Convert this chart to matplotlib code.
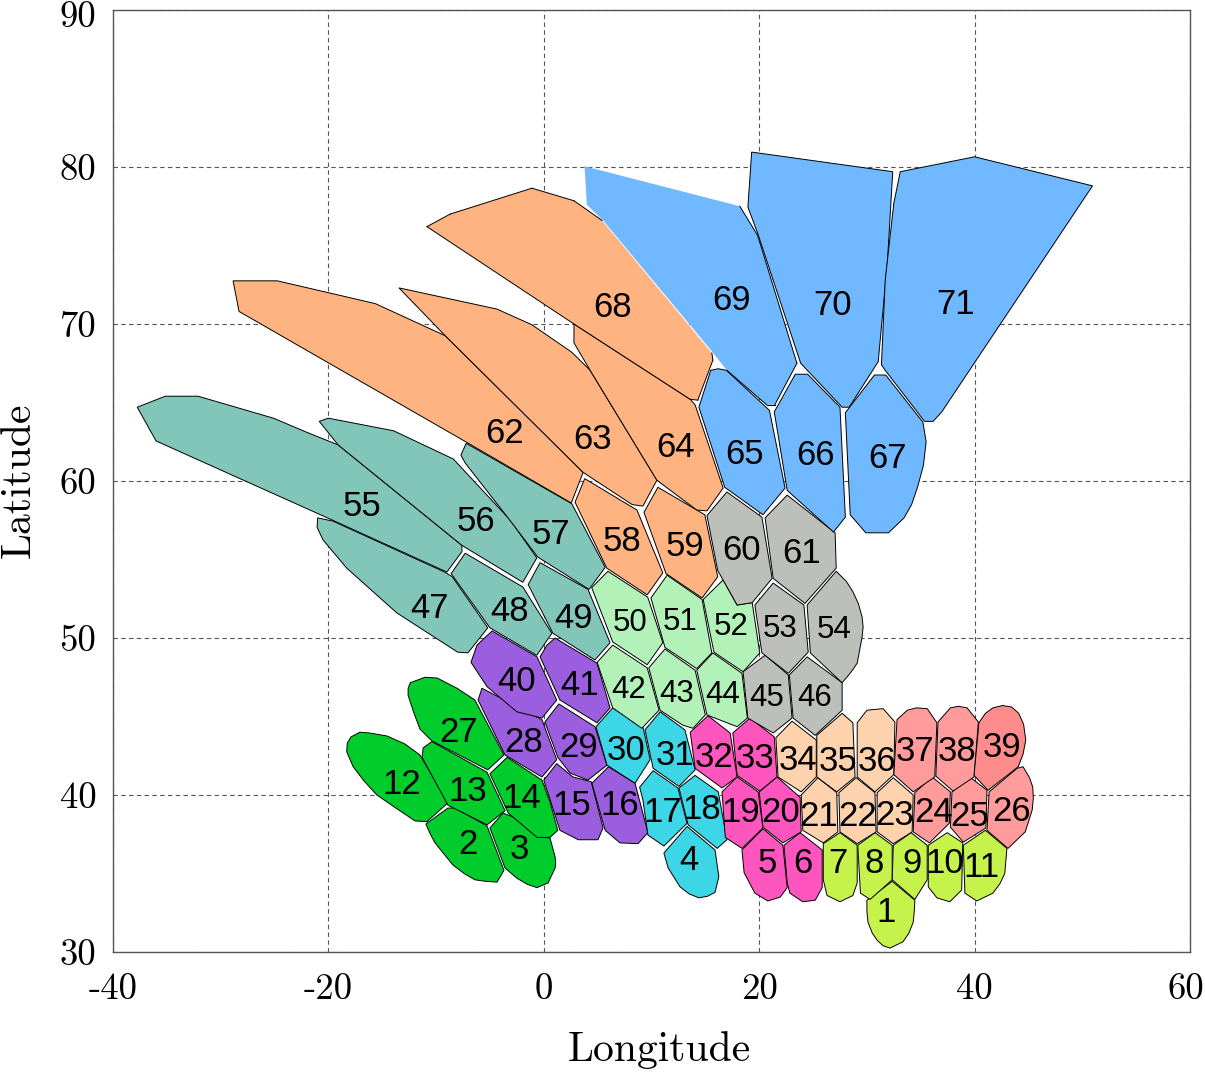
import matplotlib
matplotlib.use("Agg")
import matplotlib.pyplot as plt
from matplotlib.transforms import ScaledTranslation

# Cell outlines as (longitude, latitude) vertices, one table per cluster.
green_cells = {
    2: [(-8.9,39.17),(-8.25,39.17),(-5.27,38.03),(-3.7,35.2),(-4.35,34.45),(-5.4,34.5),(-6.4,34.6),(-7.4,35),(-8.45,35.55),(-10.1,36.95),(-10.6,37.6),(-10.95,38.15)],
    3: [(-3.8,38.85),(-2.85,38.6),(-0.63,37.45),(0.58,37.25),(1.05,36.05),(1.1,35.7),(1.05,35.35),(0.4,34.4),(-0.63,34.1),(-1.5,34.3),(-2.5,34.7),(-3.6,35.35),(-5,37.9)],
    12: [(-17.07,44.0),(-16.2,43.95),(-14.56,43.76),(-12.9,43.25),(-11.5,42.55),(-8.9,39.5),(-10.85,38.3),(-11.96,38.35),(-13.8,39.2),(-15.5,40),(-16.7,40.9),(-17.7,41.8),(-18.3,42.75),(-18.25,43.3),(-17.9,43.7)],
    13: [(-10.4,43.4),(-5.27,41.45),(-3.6,39),(-5.27,38.1),(-8.9,39.35),(-11.3,42.4),(-11.2,43)],
    14: [(-3.4,42.4),(-0.17,40.95),(0.58,39.55),(1.3,37.75),(0.58,37.3),(-0.63,37.3),(-3.3,38.85),(-5,41.35)],
    27: [(-11.03,47.5),(-9.9,47.45),(-8.06,46.8),(-6.4,46.05),(-3.7,42.55),(-5.2,41.6),(-10.4,43.45),(-11.5,44.2),(-12.1,45.3),(-12.6,46.35),(-12.6,46.8),(-12.4,47.15)],
}
purple_cells = {
    15: [(1.2,42),(2.7,41.15),(4.4,40.85),(5.5,37.9),(5.03,37.15),(3.2,37.15),(1.5,37.75),(0,40.95)],
    16: [(6,41.8),(8.47,40.75),(9.67,37.6),(8.75,36.9),(7.07,36.95),(5.7,37.75),(4.47,40.75)],
    28: [(-5.74,46.8),(-0.17,44.8),(1.2,42.25),(-0.17,41.15),(-3.6,42.55),(-6.1,46.05)],
    29: [(1.4,45.8),(4.75,44.35),(5.87,41.9),(4.1,40.95),(2.43,41.4),(1.3,42.4),(0.1,44.65)],
    40: [(-4.8,50.45),(-0.63,48.8),(1.2,46.05),(-0.17,44.9),(-2.5,45.3),(-5.27,46.9),(-6.76,48.45),(-6.2,49.55)],
    41: [(1.04,50),(4.94,48.4),(6.15,45.55),(4.94,44.6),(1.5,46.05),(-0.35,48.8),(0.3,49.55)],
}
cyan_cells = {
    4: [(13.3,38),(15.9,36.5),(16.25,34.8),(15.9,33.8),(15.2,33.55),(14.4,33.45),(13.5,33.7),(12.65,34.15),(11.55,35.35),(11.15,36.3)],
    17: [(10.15,41.55),(12.45,40.45),(13.3,38.2),(11.15,36.75),(9.67,37.45),(9.2,39.7),(8.9,40.5)],
    18: [(14.05,41.25),(16.2,40.2),(17,37.15),(16.1,36.6),(13.4,38.1),(12.55,40.45)],
    30: [(6.4,45.55),(9.2,44.35),(9.87,42.25),(8.47,40.75),(5.87,41.9),(4.85,44.35)],
    31: [(10.8,45.3),(13.1,44.15),(14.05,41.6),(12.55,40.55),(10.15,41.7),(9.4,44.15)],
}
pink_cells = {
    5: [(20.35,37.85),(22.2,36.8),(22.6,34.1),(21.95,33.5),(20.8,33.25),(19.6,33.75),(18.6,35.05),(18.4,36.5)],
    6: [(23.8,37.6),(25.85,36.5),(25.85,34.1),(25.2,33.3),(24.05,33.2),(22.85,33.75),(22.6,34.4),(22.3,36.8)],
    19: [(17.95,41.15),(19.9,40.2),(20.35,37.9),(18.4,36.6),(16.85,37.3),(16.55,40.2)],
    20: [(21.65,41.15),(23.8,39.85),(23.9,37.65),(22.2,36.95),(20.35,37.95),(20,40.2)],
    32: [(15.25,45.05),(17.3,43.95),(17.95,41.15),(16.55,40.45),(14.05,41.7),(13.6,44)],
    33: [(19.15,44.9),(21.4,43.7),(21.65,41.15),(20.05,40.25),(17.95,41.25),(17.55,43.95)],
}
lime_cells = {
    1: [(32.35,34.5),(34.45,33.3),(34.4,32.6),(34.3,31.9),(33.9,31.2),(33.35,30.65),(32.15,30.25),(31.5,30.4),(30.95,30.75),(30.5,31.2),(30.1,31.9),(30,32.6),(30,33.3)],
    7: [(27.5,37.6),(29.1,36.8),(29.1,34.4),(28.7,33.6),(27.5,33.2),(26.3,33.6),(25.95,34.6),(25.95,36.9)],
    8: [(30.75,37.6),(32.35,36.8),(32.35,34.6),(30.3,33.35),(29.4,33.75),(29.15,36.8)],
    9: [(34.1,37.6),(35.6,36.8),(35.6,34.6),(34.45,33.35),(32.35,34.6),(32.45,36.8)],
    10: [(37.45,37.6),(38.9,36.95),(38.8,33.95),(37.7,33.2),(36.5,33.45),(35.7,34.15),(35.7,36.8)],
    11: [(41,37.75),(43,36.6),(42.8,35),(42.35,34.35),(41.7,33.75),(40.2,33.25),(39.1,33.75),(38.95,36.8)],
}
peach_cells = {
    21: [(25.45,41.1),(27.2,40.15),(27.3,37.65),(25.95,36.95),(24.05,37.75),(23.9,40)],
    22: [(29,41.1),(30.75,40.15),(30.85,37.65),(29.1,36.9),(27.5,37.65),(27.4,40.15)],
    23: [(32.45,41.1),(34.3,40),(34.2,37.65),(32.45,36.9),(30.95,37.65),(30.95,40.15)],
    34: [(23.05,44.7),(25.3,43.5),(25.3,41.15),(23.9,40.2),(21.75,41.15),(21.55,43.65)],
    35: [(27.7,45.2),(28.7,44.6),(28.9,41.15),(27.2,40.2),(25.35,41.15),(25.35,43.8)],
    36: [(30,45.4),(31.5,45.5),(32.6,44.65),(32.5,41.3),(30.75,40.2),(29.1,41.15),(29.1,44.6)],
}
salmon_cells = {
    24: [(36.05,41.15),(37.75,40.2),(37.65,38.2),(35.8,36.95),(34.3,37.65),(34.45,40.15)],
    25: [(39.55,41.15),(41.15,40.3),(41.05,37.9),(38.95,37),(37.75,37.95),(37.9,40.2)],
    26: [(44.5,41.8),(45.1,41.1),(45.4,40.5),(45.45,39.8),(45.35,39.05),(44.7,37.65),(43.1,36.6),(41.15,37.75),(41.35,40.2),(43.95,41.7)],
    37: [(33.75,45.4),(34.6,45.55),(35.6,45.5),(36.5,44.6),(36.3,41.15),(34.3,40.2),(32.5,41.3),(32.8,44.8)],
    38: [(37.75,45.55),(38.5,45.65),(39.3,45.55),(40.35,44.65),(39.95,41.15),(38,40.25),(36.4,41.2),(36.6,44.65)],
    39: [(41.7,45.55),(42.6,45.7),(43.45,45.6),(44.1,45.2),(44.55,44.5),(44.75,43.5),(44.5,42.6),(44.05,41.8),(41.25,40.3),(39.95,41.25),(40.4,44.6),(41,45.2)],
}
mint_cells = {
    42: [(6.4,49.55),(9.6,48.1),(10.7,45.4),(9.1,44.25),(6.4,45.55),(4.95,48.45)],
    43: [(11.25,49.3),(14.05,47.95),(15,45.1),(13.85,44.25),(12.9,44.45),(10.8,45.4),(9.75,48.1)],
    44: [(15.7,49.05),(18.4,47.75),(18.9,44.9),(17.95,44.35),(15.15,45.1),(14.2,47.95)],
    50: [(5.95,54.25),(9.65,52.6),(11.05,49.7),(9.6,48.3),(6.4,49.75),(4.45,53.2)],
    51: [(11.45,54),(14.7,52.45),(15.6,49.05),(14.2,48.05),(11.25,49.4),(9.95,52.55)],
    52: [(16.65,53.7),(17.95,52.1),(19.35,52.25),(20.05,49.05),(18.5,47.85),(15.8,49.1),(14.8,52.45)],
}
grey_cells = {
    45: [(20.55,48.9),(22.7,47.65),(23.05,44.9),(21.3,43.95),(18.95,44.9),(18.5,47.85)],
    46: [(24.45,48.8),(27.7,47.15),(27.7,45.4),(25.2,43.8),(23.15,44.9),(22.8,47.65)],
    53: [(21.3,53.5),(24.15,52.1),(24.55,49.1),(22.7,47.75),(20.25,49.05),(19.6,52.1)],
    54: [(27.15,54.25),(28.1,53.6),(28.7,52.95),(29.2,52.2),(29.55,51.35),(29.65,50.7),(29.55,50.05),(29.1,48.4),(28.5,47.8),(27.7,47.15),(24.75,49.05),(24.45,52.1)],
    60: [(17,59.3),(20.25,57.7),(21.2,53.8),(19.35,52.25),(17.95,52.1),(16.15,54.3),(15.15,57.8)],
    61: [(22.6,59.1),(27.05,56.7),(27.15,54.45),(24.25,52.2),(21.3,53.8),(20.55,57.65)],
}
teal_cells = {
    47: [(-21,57.65),(-19.6,57.45),(-9.2,54.2),(-8.5,53.9),(-5.2,50.65),(-7.05,49.05),(-8,49.1),(-13.65,51.6),(-18.3,54.45),(-20.5,56.25),(-21.05,57.05)],
    48: [(-7.3,55.4),(-1.95,53.25),(0.75,50.3),(-0.65,48.9),(-5,50.65),(-8.6,54.1)],
    49: [(-0.35,54.8),(4.1,53.1),(6.15,49.7),(4.75,48.6),(0.85,50.3),(-1.45,53.4)],
    55: [(-37.75,64.7),(-35.15,65.4),(-32.1,65.4),(-25.1,64),(-22,63.1),(-19.1,62.3),(-7.6,55.9),(-7.6,55.5),(-9,54.2),(-19.6,57.5),(-36,62.55)],
    56: [(-20.85,63.8),(-20,64),(-13.95,63.2),(-8.4,61.4),(-3.1,57.5),(-0.65,55.1),(-1.95,53.55),(-7.6,55.9),(-19.1,62.3)],
    57: [(-7.2,62.4),(2.6,58.55),(5.7,54.5),(4.2,53.1),(-0.55,55.15),(-3.15,57.5),(-7.3,61.15),(-7.7,61.65)],
}
orange_cells = {
    58: [(3.8,60.15),(8.65,58.15),(11.05,54.15),(9.6,52.75),(5.85,54.45),(2.9,58.65)],
    59: [(10.6,59.6),(14.95,57.85),(16.15,53.9),(14.7,52.55),(11.35,54.1),(9.3,58)],
    62: [(-28.85,72.75),(-24.75,72.75),(-15.65,71.3),(-9.15,69.25),(3.65,60.55),(2.55,58.6),(-7,62.4),(-28.3,70.8)],
    63: [(-13.45,72.3),(-4.35,70.95),(-1.1,69.95),(2.6,68.2),(4.3,67.05),(10.5,60.05),(9.2,58.4),(8.2,58.5),(3.65,60.55),(-9.15,69.25)],
    64: [(2.8,70),(13.6,65.2),(14.05,64.85),(16.65,59.55),(15.15,58.1),(14.2,58.15),(10.5,60.05),(4.3,67.05),(2.8,68.8)],
    68: [(-10.85,76.2),(-8.7,77),(-1.1,78.65),(2.8,77.85),(5.4,76.6),(15.6,68.15),(15.7,67.7),(14.3,65.15),(13.6,65.2),(2.8,70)],
}
blue_cells = {
    65: [(16.2,67.15),(16.95,67.05),(20.95,64.5),(22.4,59.55),(20.35,57.85),(16.8,59.6),(14.4,64.7),(15.5,67.05)],
    66: [(23.35,66.8),(24.5,66.8),(27.5,64.7),(28,57.7),(26.9,56.75),(22.6,59.4),(21.4,64.4)],
    67: [(30.7,66.75),(31.75,66.75),(35.2,63.75),(35.5,62.5),(35.25,61),(34.7,59.6),(34.15,58.5),(33.45,57.65),(32,56.7),(29.9,56.7),(28.45,57.85),(28,64.35)],
    69: [(3.78,80.05),(18.2,77.5),(19.85,75.65),(23.5,67.5),(21.45,64.85),(20.7,64.85),(17,67.05),(15.5,68.35),(5.5,76.6),(4,77.6)],
    70: [(19.3,80.95),(32.4,79.7),(31.9,73.9),(31.05,67.6),(28.35,64.7),(27.7,64.7),(23.85,67.5),(19.85,75.8),(18.95,77.45)],
    71: [(33.1,79.7),(40,80.65),(50.95,78.8),(36.95,64.4),(36.15,63.8),(35.35,63.8),(31.7,67.05),(31.35,67.4),(31.7,72.8),(32.5,77.7)],
}

# Cell sides left without an outline, given by the index of their first vertex.
open_sides = {68: {4}, 69: {0, 6, 7, 8, 9}}
cell_tints = {39: "#FF8C8C"}

# Where each cell number sits, in order 1..71.
label_lon = [31.8,-7.05,-2.3,13.5,20.75,24.05,27.3,30.65,34.2,37.25,40.6,-13.15,-7.05,-2.05,2.6,7.05,11.05,14.7,18.3,21.95,
             25.55,29.15,32.6,36.15,39.55,43.4,-7.95,-1.85,3.2,7.65,12.2,15.8,19.6,23.6,27.3,30.95,34.45,38.35,42.55,-2.5,
             3.35,7.9,12.35,16.65,20.7,25.1,-10.65,-3.2,2.8,8,12.65,17.4,21.95,26.95,-16.9,-6.3,0.7,7.25,13.1,18.4,
             23.95,-3.6,4.55,12.2,18.6,25.2,31.9,6.35,17.4,26.85,38.2]
label_lat = [32.7,37.05,36.75,36,35.8,35.8,35.8,35.85,35.8,35.8,35.6,40.85,40.4,40,39.5,39.5,39.1,39.25,39.1,39.1,
             38.85,38.85,38.9,39.05,38.8,39.15,44.2,43.55,43.25,43,42.7,42.6,42.55,42.4,42.35,42.35,42.95,42.95,43.25,47.45,
             47.15,46.9,46.6,46.55,46.35,46.35,52.1,51.9,51.45,51.15,51.2,50.9,50.75,50.7,58.55,57.6,56.8,56.35,56,55.75,
             55.55,63.2,62.85,62.3,61.9,61.8,61.65,71.25,71.7,71.4,71.45]
small_labels = {42, 43, 44, 45, 46, 50, 51, 52, 53, 54}

x_ticks = [-40, -20, 0, 20, 40, 60]
y_ticks = [30, 40, 50, 60, 70, 80, 90]

clusters = [
    (green_cells, "#00CC2C"), (purple_cells, "#9B5EDE"), (cyan_cells, "#3DD6E6"),
    (pink_cells, "#FF55BE"), (lime_cells, "#C6F24C"), (peach_cells, "#FFD2AE"),
    (salmon_cells, "#FF9B9B"), (mint_cells, "#B2F2B8"), (grey_cells, "#BDC0BA"),
    (teal_cells, "#82C6BA"), (orange_cells, "#FFB380"), (blue_cells, "#70B8FF"),
]

fig = plt.figure(figsize=(12.05, 10.72), dpi=100)
ax = fig.add_axes([113 / 1205, 1 - 952 / 1072, 1077 / 1205, 942 / 1072])

ax.grid(True, color="#555555", linestyle=(0, (4, 3)), linewidth=0.8)
ax.set_axisbelow(True)

for cells, colour in clusters:
    for number, vertices in cells.items():
        lons, lats = zip(*vertices)
        face = cell_tints.get(number, colour)
        if number in open_sides:
            ax.fill(lons, lats, facecolor=face, edgecolor="none", zorder=2)
            for i in range(len(vertices)):
                if i not in open_sides[number]:
                    j = (i + 1) % len(vertices)
                    ax.plot([lons[i], lons[j]], [lats[i], lats[j]], color="black", linewidth=0.7, zorder=2.5)
        else:
            ax.fill(lons, lats, facecolor=face, edgecolor="black", linewidth=0.7, zorder=2)

for number, (lon, lat) in enumerate(zip(label_lon, label_lat), start=1):
    size = 22.5 if number in small_labels else 25
    ax.annotate(str(number), (lon, lat), xytext=(0, -2.2), textcoords="offset points",
                fontsize=size, family="Liberation Sans", ha="center", va="center",
                color="black", zorder=3)

ax.set_xlim(-40, 60)
ax.set_ylim(30, 90)
ax.set_xticks(x_ticks)
ax.set_yticks(y_ticks)
x_labels = ax.set_xticklabels([str(v) for v in x_ticks], family="cmr10", fontsize=26.5)
y_labels = ax.set_yticklabels([str(v) for v in y_ticks], family="cmr10", fontsize=26.5)
ax.tick_params(length=0)
ax.tick_params(axis="x", pad=15)
ax.tick_params(axis="y", pad=12)

# Nudge the corner tick labels inward so they stay on the canvas.
x_labels[-1].set_transform(x_labels[-1].get_transform() + ScaledTranslation(-4 / 100, 0, fig.dpi_scale_trans))
y_labels[-1].set_transform(y_labels[-1].get_transform() + ScaledTranslation(0, -4 / 100, fig.dpi_scale_trans))

ax.set_xlabel("Longitude", family="cmr10", fontsize=30, va="center")
ax.set_ylabel("Latitude", family="cmr10", fontsize=30, va="center")
ax.xaxis.set_label_coords(0.507, -0.104)
ax.yaxis.set_label_coords(-0.087, 0.501)
for spine in ax.spines.values():
    spine.set_linewidth(1.0)
    spine.set_color("#555555")

fig.savefig("out.png", dpi=100)
